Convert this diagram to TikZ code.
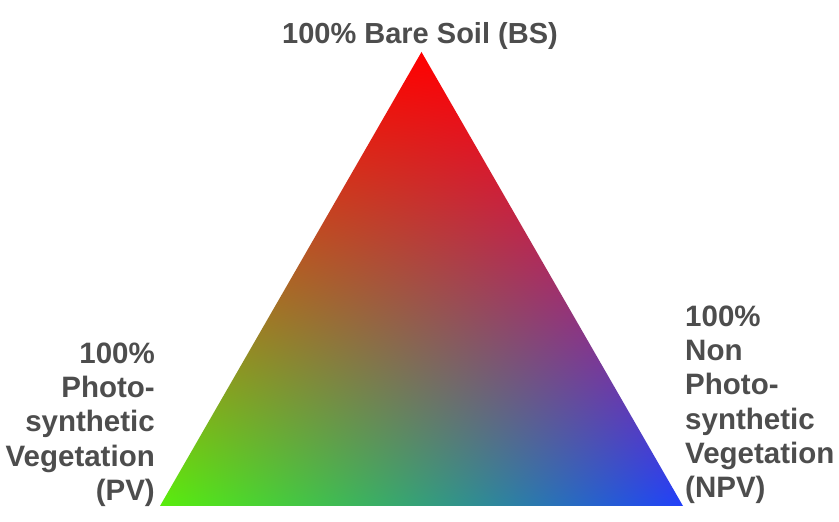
\documentclass[tikz,border=0pt]{standalone}
\usepackage{fontspec}
\setmainfont{Liberation Sans}
\definecolor{labelgray}{HTML}{4D4D4D}
% ternary colour shading: the inner square 25..75 maps onto the triangle's bounding box;
% a = top (BS) weight, c = right (NPV) weight, b = left (PV) weight, plus mild mixing terms
\pgfdeclarefunctionalshading{ternary}{\pgfpointorigin}{\pgfpoint{100bp}{100bp}}{}{
  25 sub 50 div
  exch 25 sub
  1 index 25 mul sub 50 div
  2 copy add 1 exch sub
  2 index 1.0 mul 2 index 0.13 mul add 1 index 0.35 mul add
  3 index 2 index mul 0.0 mul add
  3 index 3 index mul 0.3 mul add
  1 index 3 index mul -0.15 mul add
  3 index 0.0 mul 3 index 0.25 mul add 2 index 0.93 mul add
  4 index 3 index mul -0.3 mul add
  4 index 4 index mul 0.25 mul add
  2 index 4 index mul 0.15 mul add
  4 index 0.0 mul 4 index 0.98 mul add 3 index 0.05 mul add
  5 index 4 index mul 0.5 mul add
  5 index 5 index mul -0.35 mul add
  3 index 5 index mul -0.15 mul add
  6 3 roll pop pop pop
}
\tikzset{
  lbl/.style={font=\bfseries\fontsize{29.5}{34.2}\selectfont, text=labelgray, inner sep=0pt}
}
\begin{document}
\begin{tikzpicture}[x=1pt,y=1pt]
\useasboundingbox[fill=white] (0,0) rectangle (839,522);
\coordinate (T) at (421.5,470);
\coordinate (L) at (160,16);
\coordinate (R) at (683,16);
\shade[shading=ternary] (T) -- (L) -- (R) -- cycle;
\node[lbl, font=\bfseries\fontsize{29}{34.2}\selectfont, anchor=base] (bs) at (420,478.5) {100\% Bare Soil (BS)};
\node[lbl, anchor=north east, align=right] (pv) at (155,179.3) {100\%\\Photo-\\synthetic\\Vegetation\\(PV)};
\node[lbl, anchor=north west, align=left] (npv) at (685,216.3) {100\%\\Non\\Photo-\\synthetic\\Vegetation\\(NPV)};
\end{tikzpicture}
\end{document}
